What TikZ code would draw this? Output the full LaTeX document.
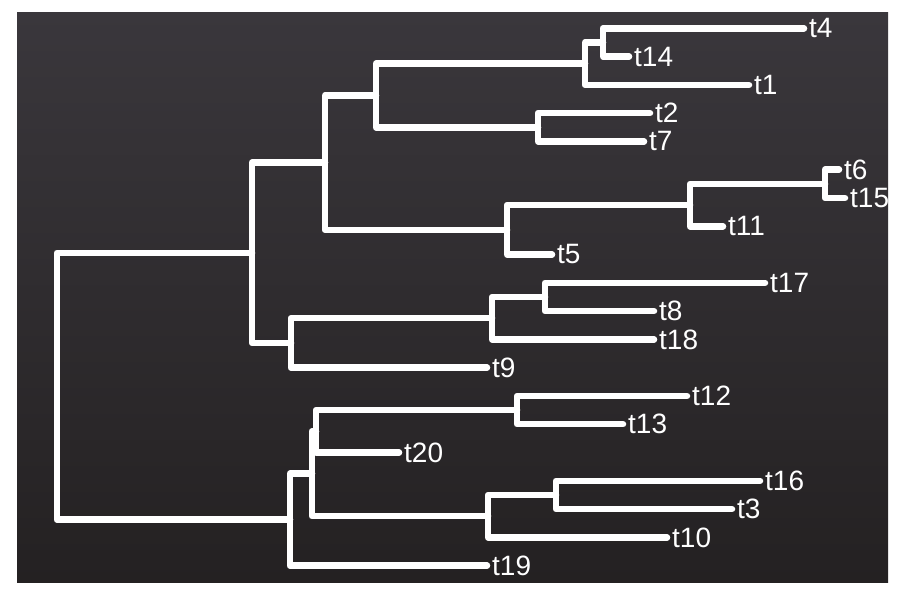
\documentclass[tikz,border=0pt]{standalone}
\usepackage{fontspec}
\setmainfont{Liberation Sans}
\usetikzlibrary{calc}
\definecolor{boardtop}{RGB}{58,55,60}
\definecolor{boardbottom}{RGB}{36,33,34}
\tikzstyle{tip} = [anchor=west, inner xsep=5pt, inner ysep=0pt, text=white, font=\fontsize{28}{30}\selectfont]
\tikzstyle{branch} = [draw=white, line width=6.5pt, line cap=round, line join=round]

\begin{document}
\begin{tikzpicture}[x=1pt, y=-1pt]

    \useasboundingbox (0,0) rectangle (900,600);
    \shade [top color=boardtop, bottom color=boardbottom] (17,12) rectangle (888,582);

    % tips
    \node (t4) [tip] at (804,28.3) {t4};
    \node (t14) [tip] at (629,56.6) {t14};
    \node (t1) [tip] at (749,84.9) {t1};
    \node (t2) [tip] at (650,113.1) {t2};
    \node (t7) [tip] at (644,141.4) {t7};
    \node (t6) [tip] at (839,169.7) {t6};
    \node (t15) [tip] at (845,198.0) {t15};
    \node (t11) [tip] at (723,226.3) {t11};
    \node (t5) [tip] at (552,254.5) {t5};
    \node (t17) [tip] at (765,282.8) {t17};
    \node (t8) [tip] at (654,311.1) {t8};
    \node (t18) [tip] at (654,339.4) {t18};
    \node (t9) [tip] at (487,367.7) {t9};
    \node (t12) [tip] at (687,396.0) {t12};
    \node (t13) [tip] at (623,424.2) {t13};
    \node (t20) [tip] at (399,452.5) {t20};
    \node (t16) [tip] at (760,480.8) {t16};
    \node (t3) [tip] at (732,509.1) {t3};
    \node (t10) [tip] at (667,537.4) {t10};
    \node (t19) [tip] at (487,565.7) {t19};

    % inner nodes
    \coordinate (n4_14) at (603,42.4);
    \coordinate (n1) at (585,63.7);
    \coordinate (n2_7) at (538,127.3);
    \coordinate (n1_7) at (376,95.5);
    \coordinate (n6_15) at (825,183.9);
    \coordinate (n11) at (690,205.1);
    \coordinate (n5) at (507,229.8);
    \coordinate (n1_5) at (325,162.6);
    \coordinate (n17_8) at (545,297.0);
    \coordinate (n18) at (492,318.2);
    \coordinate (n9) at (291,343.0);
    \coordinate (upper) at (252,252.8);
    \coordinate (n12_13) at (517,410.1);
    \coordinate (n20) at (316,431.3);
    \coordinate (n16_3) at (556,495.0);
    \coordinate (n10) at (488,516.2);
    \coordinate (n12_10) at (312,473.7);
    \coordinate (lower) at (290,519.7);
    \coordinate (root) at (57,386.2);

    \draw [branch] (n4_14) |- (t4.west);
    \draw [branch] (n4_14) |- (t14.west);
    \draw [branch] (n1) |- (n4_14);
    \draw [branch] (n1) |- (t1.west);
    \draw [branch] (n2_7) |- (t2.west);
    \draw [branch] (n2_7) |- (t7.west);
    \draw [branch] (n1_7) |- (n1);
    \draw [branch] (n1_7) |- (n2_7);
    \draw [branch] (n6_15) |- (t6.west);
    \draw [branch] (n6_15) |- (t15.west);
    \draw [branch] (n11) |- (n6_15);
    \draw [branch] (n11) |- (t11.west);
    \draw [branch] (n5) |- (n11);
    \draw [branch] (n5) |- (t5.west);
    \draw [branch] (n1_5) |- (n1_7);
    \draw [branch] (n1_5) |- (n5);
    \draw [branch] (n17_8) |- (t17.west);
    \draw [branch] (n17_8) |- (t8.west);
    \draw [branch] (n18) |- (n17_8);
    \draw [branch] (n18) |- (t18.west);
    \draw [branch] (n9) |- (n18);
    \draw [branch] (n9) |- (t9.west);
    \draw [branch] (upper) |- (n1_5);
    \draw [branch] (upper) |- (n9);

    \draw [branch] (n12_13) |- (t12.west);
    \draw [branch] (n12_13) |- (t13.west);
    \draw [branch] (n20) |- (n12_13);
    \draw [branch] (n20) |- (t20.west);
    \draw [branch] (n16_3) |- (t16.west);
    \draw [branch] (n16_3) |- (t3.west);
    \draw [branch] (n10) |- (n16_3);
    \draw [branch] (n10) |- (t10.west);
    \draw [branch] (n12_10) |- (n20);
    \draw [branch] (n12_10) |- (n10);
    \draw [branch] (lower) |- (n12_10);
    \draw [branch] (lower) |- (t19.west);

    \draw [branch] (root) |- (upper);
    \draw [branch] (root) |- (lower);
\end{tikzpicture}
\end{document}
